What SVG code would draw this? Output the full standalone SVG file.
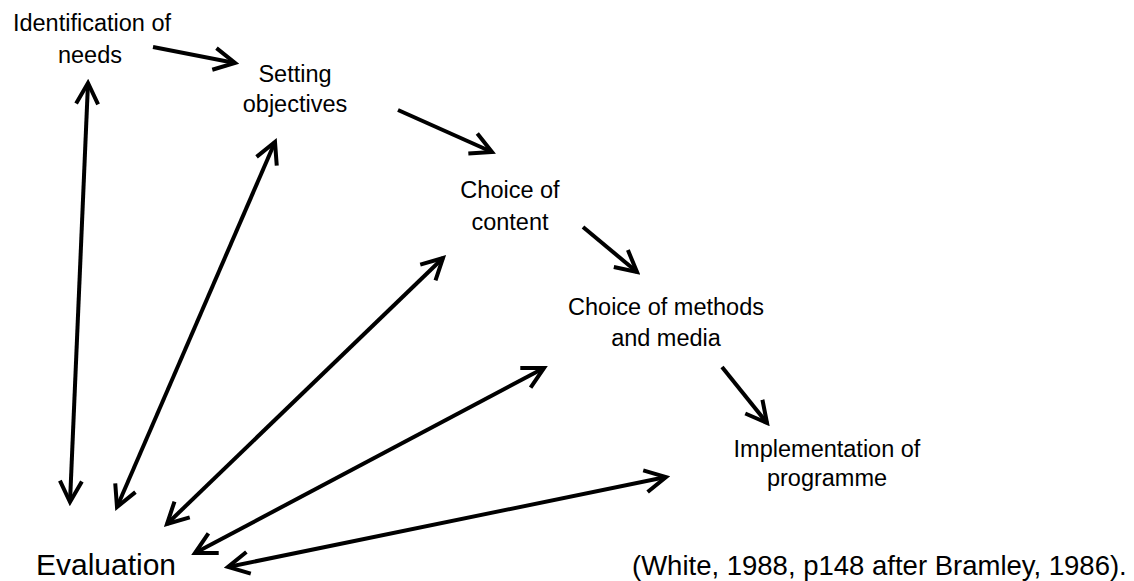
<svg xmlns="http://www.w3.org/2000/svg" width="1134" height="581" viewBox="0 0 1134 581">
<style>
text{font-family:"Liberation Sans",Arial,sans-serif;fill:#000;text-anchor:middle}
.s{font-size:23.5px}
.l{font-size:30px}
.c{font-size:27.5px;text-anchor:start}
.a{fill:none;stroke:#000;stroke-width:4}
</style>
<defs>
<marker id="ah" viewBox="-30 -15 34 30" refX="0" refY="0" markerWidth="34" markerHeight="30" markerUnits="userSpaceOnUse" orient="auto-start-reverse">
<path d="M-21,-11 L0,0 L-21,11" fill="none" stroke="#000" stroke-width="4"/>
</marker>
</defs>
<rect width="1134" height="581" fill="#fff"/>
<g id="needs"><text class="s" x="92" y="31">Identification of</text><text class="s" x="90" y="63">needs</text></g>
<g id="objectives"><text class="s" x="295" y="82">Setting</text><text class="s" x="295" y="112">objectives</text></g>
<g id="content"><text class="s" x="510" y="198">Choice of</text><text class="s" x="510" y="230">content</text></g>
<g id="methods"><text class="s" x="666" y="315">Choice of methods</text><text class="s" x="666" y="346">and media</text></g>
<g id="implementation"><text class="s" x="827" y="457">Implementation of</text><text class="s" x="827" y="486">programme</text></g>
<g id="evaluation"><text class="l" x="106" y="575">Evaluation</text></g>
<g id="citation"><text class="c" x="632" y="575">(White, 1988, p148 after Bramley, 1986).</text></g>
<g id="connectors">
<line class="a" x1="153" y1="47" x2="235" y2="63" marker-end="url(#ah)"/>
<line class="a" x1="398" y1="110" x2="492" y2="152" marker-end="url(#ah)"/>
<line class="a" x1="583" y1="227" x2="637" y2="272" marker-end="url(#ah)"/>
<line class="a" x1="722" y1="367" x2="767" y2="423" marker-end="url(#ah)"/>
<line class="a" x1="88" y1="83" x2="70" y2="502" marker-start="url(#ah)" marker-end="url(#ah)"/>
<line class="a" x1="275" y1="142" x2="117" y2="507" marker-start="url(#ah)" marker-end="url(#ah)"/>
<line class="a" x1="443" y1="258" x2="167" y2="524" marker-start="url(#ah)" marker-end="url(#ah)"/>
<line class="a" x1="544" y1="368" x2="195" y2="553" marker-start="url(#ah)" marker-end="url(#ah)"/>
<line class="a" x1="666" y1="477" x2="228" y2="567" marker-start="url(#ah)" marker-end="url(#ah)"/>
</g>
</svg>
